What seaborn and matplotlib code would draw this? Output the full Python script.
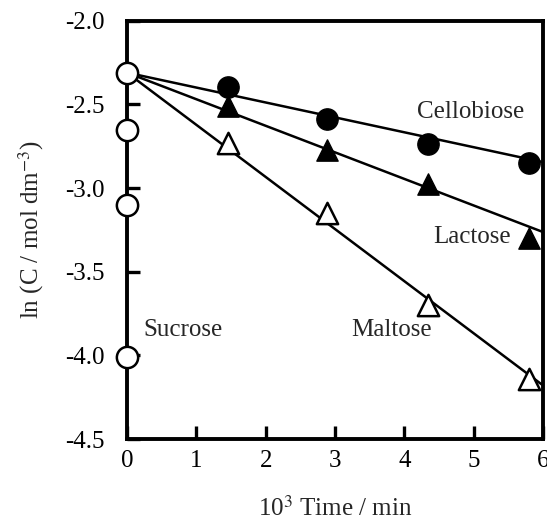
import matplotlib
matplotlib.use("Agg")
import matplotlib.pyplot as plt
import seaborn as sns
import pandas as pd

# Data
sucrose_x = [0, 0, 0, 0]
sucrose_y = [-2.31, -2.65, -3.10, -4.01]

time_x = [1.45, 2.88, 4.34, 5.80]
cellobiose_y = [-2.395, -2.59, -2.734, -2.85]
lactose_y = [-2.51, -2.774, -2.978, -3.30]
maltose_y = [-2.73, -3.15, -3.70, -4.14]

fit_x = [0, 6]
cellobiose_fit = [-2.31, -2.845]
lactose_fit = [-2.31, -3.263]
maltose_fit = [-2.31, -4.18]

xticks = [0, 1, 2, 3, 4, 5, 6]
yticks = [-2.0, -2.5, -3.0, -3.5, -4.0, -4.5]
ytick_labels = ["-2.0", "-2.5", "-3.0", "-3.5", "-4.0", "-4.5"]

sns.set_style("ticks")
plt.rcParams['font.family'] = ['Liberation Serif', 'DejaVu Serif']
plt.rcParams['mathtext.fontset'] = 'stix'

fig = plt.figure(figsize=(5.47, 5.19), dpi=100)
ax = fig.add_axes([0.232, 0.154, 0.761, 0.806])

fits = pd.DataFrame({
    "x": fit_x * 3,
    "y": cellobiose_fit + lactose_fit + maltose_fit,
    "s": ["Cellobiose"] * 2 + ["Lactose"] * 2 + ["Maltose"] * 2,
})
sns.lineplot(data=fits, x="x", y="y", units="s", estimator=None, color="black",
             lw=1.8, ax=ax, legend=False, zorder=2)

ms = 235
sns.scatterplot(x=sucrose_x, y=sucrose_y, marker="o", s=ms, facecolor="white",
                edgecolor="black", linewidth=1.8, ax=ax, zorder=4, clip_on=False)
sns.scatterplot(x=time_x, y=cellobiose_y, marker="o", s=ms, color="black",
                edgecolor="black", linewidth=1.0, ax=ax, zorder=4, clip_on=False)
sns.scatterplot(x=time_x, y=lactose_y, marker="^", s=ms, color="black",
                edgecolor="black", linewidth=1.0, ax=ax, zorder=4, clip_on=False)
sns.scatterplot(x=time_x, y=maltose_y, marker="^", s=ms, facecolor="white",
                edgecolor="black", linewidth=1.8, ax=ax, zorder=4, clip_on=False)

fs = 18
ax.text(4.95, -2.545, "Cellobiose", fontsize=fs, ha="center", va="center")
ax.text(4.97, -3.29, "Lactose", fontsize=fs, ha="center", va="center")
ax.text(0.81, -3.85, "Sucrose", fontsize=fs, ha="center", va="center")
ax.text(3.82, -3.85, "Maltose", fontsize=fs, ha="center", va="center")

ax.set_xlim(0, 6)
ax.set_ylim(-4.5, -2.0)
ax.set_xticks(xticks)
ax.set_yticks(yticks)
ax.set_yticklabels(ytick_labels)
ax.tick_params(direction="in", length=9.5, width=2.4, labelsize=fs, colors="black")
ax.tick_params(axis="y", pad=16)
ax.tick_params(axis="x", pad=8)
for sp in ax.spines.values():
    sp.set_visible(True)
    sp.set_linewidth(2.8)
    sp.set_color("black")

ax.set_xlabel(r"10$^{3}$ Time / min", fontsize=fs, labelpad=17)
ax.set_ylabel(r"ln (C / mol dm$^{-3}$)", fontsize=fs, labelpad=14)

fig.savefig("out.png", dpi=100)
